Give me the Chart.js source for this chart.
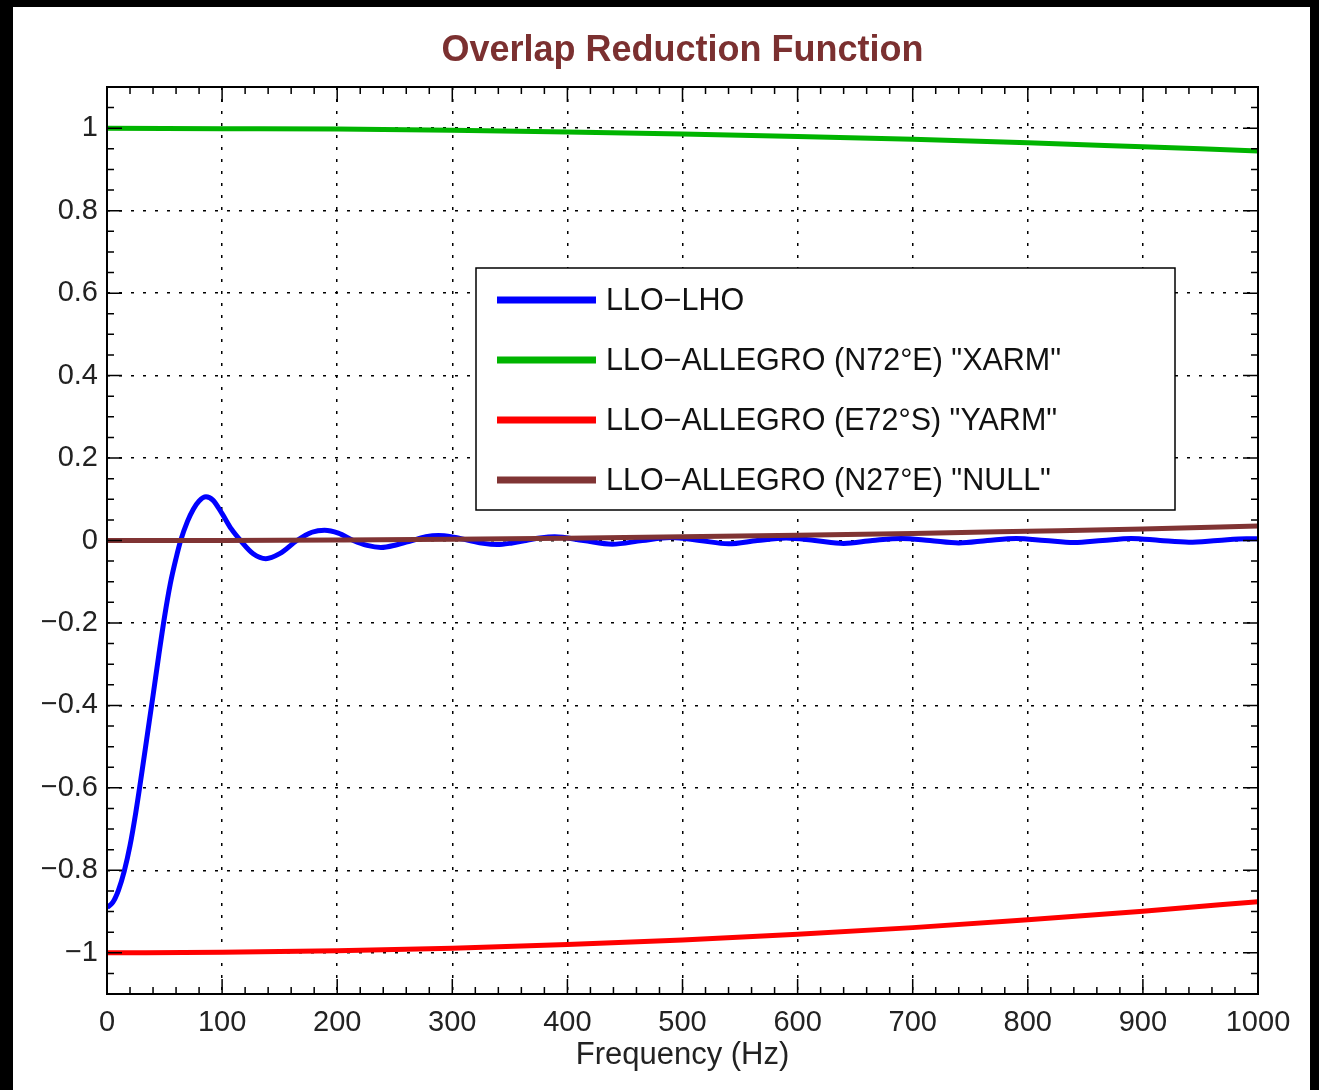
<!DOCTYPE html>
<html>
<head>
<meta charset="utf-8">
<title>Overlap Reduction Function</title>
<script src="https://cdn.jsdelivr.net/npm/chart.js@4.4.1/dist/chart.umd.min.js"></script>
<style>
  html, body { margin: 0; padding: 0; background: #000; }
  #wrap { position: absolute; left: 13px; top: 7px; width: 1297px; height: 1083px; background: #fff; }
</style>
</head>
<body>
<div id="wrap"><canvas id="orf" width="1297" height="1083"></canvas></div>
<script>
// frequencias (Hz) y valores de gamma(f) por par de detectores
const freqLho = [0, 5, 10, 15, 20, 25, 30, 35, 40, 45, 50, 55, 60, 64, 70, 75, 80, 86, 92, 100,
    108, 116, 127, 138, 150, 165, 178, 189, 201, 214, 226, 238, 251, 265, 277, 288, 301, 315,
    327, 339, 352, 364, 376, 389, 414, 439, 465, 490, 515, 540, 565, 590, 615, 640, 665, 690,
    715, 740, 765, 790, 815, 840, 865, 890, 915, 940, 965, 990, 1000];
const gammaLho = [-0.89, -0.878, -0.848, -0.802, -0.740, -0.66, -0.568, -0.472, -0.376, -0.278,
    -0.185, -0.105, -0.043, 0, 0.047, 0.076, 0.096, 0.106, 0.098, 0.065,
    0.028, 0, -0.032, -0.044, -0.032, 0, 0.02, 0.025, 0.018, 0, -0.012, -0.017, -0.011, 0,
    0.009, 0.012, 0.008, 0, -0.007, -0.010, -0.006, 0, 0.006, 0.009, 0, -0.009, 0, 0.007,
    0, -0.008, 0, 0.006, 0, -0.007, 0, 0.005, 0, -0.006, 0, 0.005, 0, -0.005, 0, 0.005,
    0, -0.004, 0, 0.004, 0.004];

const freqAllegro = [0, 100, 200, 300, 400, 500, 600, 700, 800, 900, 1000];
const gammaXarm = [1.0, 0.999, 0.998, 0.995, 0.991, 0.986, 0.980, 0.973, 0.965, 0.955, 0.945];
const gammaYarm = [-1.0, -0.999, -0.995, -0.989, -0.980, -0.969, -0.955, -0.939, -0.920, -0.899, -0.876];
const gammaNull = [0, 0.0003, 0.0014, 0.003, 0.0056, 0.0088, 0.0126, 0.017, 0.0224, 0.028, 0.035];

const seriesLabels = ['LLO\u2212LHO', 'LLO\u2212ALLEGRO (N72\u00B0E) "XARM"',
    'LLO\u2212ALLEGRO (E72\u00B0S) "YARM"', 'LLO\u2212ALLEGRO (N27\u00B0E) "NULL"'];
const seriesColors = ['#0000ff', '#00b400', '#ff0000', '#803434'];

const xTicks = [0, 100, 200, 300, 400, 500, 600, 700, 800, 900, 1000];
const yTicks = [-1, -0.8, -0.6, -0.4, -0.2, 0, 0.2, 0.4, 0.6, 0.8, 1];

const FONT = '"Liberation Sans", Arial, Helvetica, sans-serif';

function toPoints(xs, ys) {
    return xs.map((x, i) => ({ x: x, y: ys[i] }));
}

function fmtTick(v) {
    if (v === 0) return '0';
    return (v < 0 ? '\u2212' : '') + Math.abs(v);
}

// marcos, ticks interiores, titulo y leyenda
const framePlugin = {
    id: 'frame',
    afterDatasetsDraw(chart) {
        const ctx = chart.ctx;
        const ca = chart.chartArea;
        const xs = chart.scales.x;
        const ys = chart.scales.y;
        ctx.save();
        ctx.strokeStyle = '#000';
        ctx.lineWidth = 1.5;
        ctx.beginPath();
        for (let f = 0; f <= 1000; f += 20) {
            const px = xs.getPixelForValue(f);
            const len = f % 100 === 0 ? 15 : 7;
            ctx.moveTo(px, ca.bottom); ctx.lineTo(px, ca.bottom - len);
            ctx.moveTo(px, ca.top); ctx.lineTo(px, ca.top + len);
        }
        for (let k = -22; k <= 22; k++) {
            const v = k * 0.05;
            const py = ys.getPixelForValue(v);
            const len = (k % 4 === 0 && Math.abs(k) <= 20) ? 15 : 7;
            ctx.moveTo(ca.left, py); ctx.lineTo(ca.left + len, py);
            ctx.moveTo(ca.right, py); ctx.lineTo(ca.right - len, py);
        }
        ctx.stroke();
        ctx.lineWidth = 2;
        ctx.strokeRect(ca.left, ca.top, ca.right - ca.left, ca.bottom - ca.top);

        // titulo
        ctx.fillStyle = '#7b3030';
        ctx.font = 'bold 36px ' + FONT;
        ctx.textAlign = 'center';
        ctx.textBaseline = 'middle';
        ctx.fillText('Overlap Reduction Function', (ca.left + ca.right) / 2, 44);

        // leyenda
        const bx = ca.left + 369, by = ca.top + 181, bw = 699, bh = 242;
        ctx.fillStyle = '#fff';
        ctx.fillRect(bx, by, bw, bh);
        ctx.lineWidth = 1.5;
        ctx.strokeStyle = '#000';
        ctx.strokeRect(bx, by, bw, bh);
        ctx.font = '30.5px ' + FONT;
        ctx.textAlign = 'left';
        chart.data.datasets.forEach((ds, i) => {
            const ry = by + 32 + i * 60;
            ctx.strokeStyle = ds.borderColor;
            ctx.lineWidth = 7;
            ctx.beginPath();
            ctx.moveTo(bx + 21, ry); ctx.lineTo(bx + 120, ry);
            ctx.stroke();
            ctx.fillStyle = '#111';
            ctx.fillText(ds.label, bx + 130, ry + 2);
        });
        ctx.restore();
    }
};

const datasets = [
    toPoints(freqLho, gammaLho),
    toPoints(freqAllegro, gammaXarm),
    toPoints(freqAllegro, gammaYarm),
    toPoints(freqAllegro, gammaNull)
].map((pts, i) => ({
    label: seriesLabels[i],
    data: pts,
    borderColor: seriesColors[i],
    borderWidth: 5,
    pointRadius: 0,
    fill: false,
    cubicInterpolationMode: 'monotone'
}));
// la curva marron va por encima de la azul
datasets[3].order = -1;

new Chart(document.getElementById('orf'), {
    type: 'line',
    data: { datasets: datasets },
    plugins: [framePlugin],
    options: {
        responsive: false,
        animation: false,
        layout: { padding: { top: 80, right: 52, left: 0, bottom: 0 } },
        plugins: {
            legend: { display: false },
            title: { display: false },
            tooltip: { enabled: false }
        },
        scales: {
            x: {
                type: 'linear',
                min: 0,
                max: 1000,
                afterBuildTicks: s => { s.ticks = xTicks.map(v => ({ value: v })); },
                afterFit: s => { s.height = 96; },
                grid: { color: '#000', lineWidth: 1.5, drawTicks: false },
                border: { display: false, dash: [3, 9] },
                ticks: { padding: 12, color: '#222', font: { family: FONT, size: 29 }, maxRotation: 0, callback: v => fmtTick(v) },
                title: { display: true, text: 'Frequency (Hz)', color: '#222', font: { family: FONT, size: 31 }, padding: { top: 0, bottom: 16 } }
            },
            y: {
                type: 'linear',
                min: -1.1,
                max: 1.1,
                afterBuildTicks: s => { s.ticks = yTicks.map(v => ({ value: v })); },
                afterFit: s => { s.width = 94; },
                grid: { color: '#000', lineWidth: 1.5, drawTicks: false },
                border: { display: false, dash: [3, 9] },
                ticks: { padding: 9, color: '#222', font: { family: FONT, size: 29 }, callback: v => fmtTick(v) }
            }
        }
    }
});
</script>
</body>
</html>
